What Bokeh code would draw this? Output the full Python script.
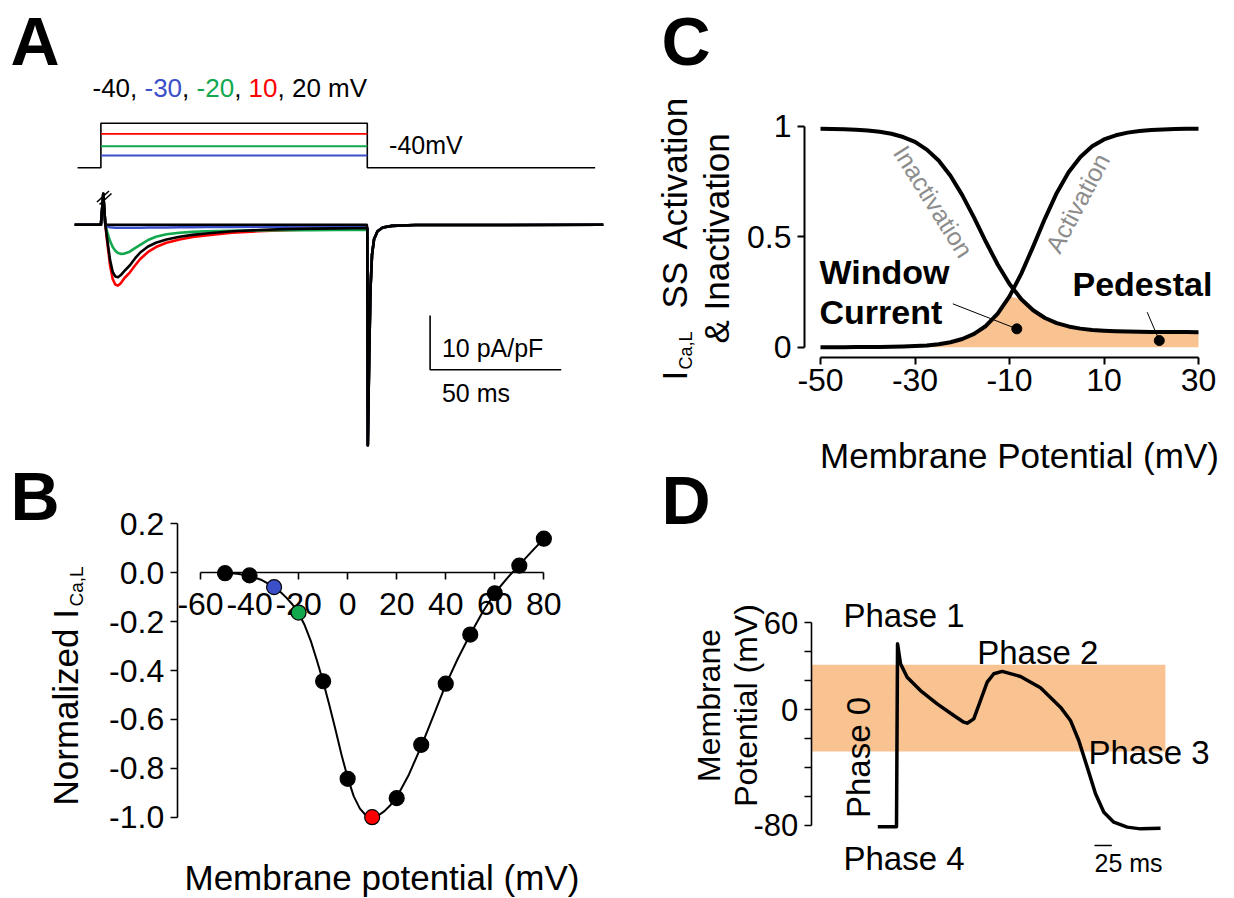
import numpy as np
from bokeh.plotting import figure
from bokeh.models import Label, Range1d, FixedTicker, CustomJSTickFormatter, LinearAxis
from bokeh.embed import file_html
from bokeh.resources import INLINE

FONT = "Liberation Sans"
BLUE = "#3B4FC8"
GREEN = "#12A84E"
RED = "#FF0000"
PEACH = "#F9C291"
GRAY = "#8C8C8C"

# ---------------- Panel A data (time in ms, current in pA/pF) ----------------
pulse_t = [-10, 0, 0.9, 1.7, 2.5, 3.5, 4.5, 5.5, 6.5, 7.5, 9, 11, 13, 15, 18, 21, 25, 30,
           35, 40, 50, 60, 70, 80, 90, 101.4]
cur_red = [0, 0, 5.7, 0, -3.5, -7.5, -10.0, -11.0, -11.2, -10.8, -9.8, -8.8, -7.5, -6.3,
           -5.0, -4.1, -3.3, -2.7, -2.25, -1.95, -1.45, -1.18, -1.0, -0.87, -0.8, -0.74]
cur_black20 = [0, 0, 5.7, 0, -3.0, -6.5, -8.7, -9.5, -9.65, -9.3, -8.5, -7.5, -6.2, -5.1,
               -4.0, -3.3, -2.7, -2.2, -1.85, -1.6, -1.2, -0.95, -0.8, -0.7, -0.65, -0.6]
cur_green = [0, 0, 5.7, 0, -1.5, -3.0, -4.1, -4.8, -5.2, -5.35, -5.3, -4.95, -4.3, -3.7,
             -2.8, -2.2, -1.75, -1.45, -1.3, -1.2, -1.1, -1.05, -1.0, -0.98, -0.95, -0.95]
cur_blue = [0, 0, 5.7, 0, -0.3, -0.45, -0.5, -0.55, -0.55, -0.55, -0.55, -0.55, -0.55, -0.55,
            -0.5, -0.5, -0.5, -0.45, -0.45, -0.4, -0.4, -0.35, -0.35, -0.3, -0.3, -0.3]
cur_black40 = [0, 0, 5.7, 0, 0, 0, 0, 0, 0, 0, 0, 0, 0, 0,
               0, 0, 0, 0, 0, 0, 0, 0, 0, 0, 0, 0]
tail_t = [101.6, 101.8, 102.3, 102.8, 103.4, 104.2, 105.5, 107.5, 111, 120, 191.6]
tail_i = [-0.7, -40.6, -25, -12, -5.5, -2.6, -1.2, -0.5, -0.2, -0.05, 0]
hold_t = [-8.9, 188.5]
pulse_on, pulse_off = 0.0, 101.6
# schematic step heights of the voltage protocol drawing (20, 10, -20, -30 mV)
proto_levels = [4.05, 3.09, 1.96, 1.12]
proto_colors = ["black", RED, GREEN, BLUE]
step_text = [("-40, ", "black"), ("-30", BLUE), (", ", "black"), ("-20", GREEN),
             (", ", "black"), ("10", RED), (", 20 mV", "black")]
bar_ms, bar_pa = 50, 10

# ---------------- Panel B data ----------------
iv_v = [-50, -40, -30, -20, -10, 0, 10, 20, 30, 40, 50, 60, 70, 80]
iv_i = [-0.002, -0.011, -0.059, -0.163, -0.444, -0.843, -1.0, -0.922, -0.704, -0.454,
        -0.253, -0.084, 0.029, 0.139]
iv_colors = {-30: BLUE, -20: GREEN, 10: RED}
fit_v = [-50, -45, -40, -35, -30, -27.5, -25, -22.5, -20, -17.5, -15, -12.5, -10, -7.5, -5,
         -2.5, 0, 2.5, 5, 7.5, 10, 12.5, 15, 17.5, 20, 25, 30, 35, 40, 45, 50, 55, 60, 65,
         70, 75, 80]
fit_i = [0.0, -0.004, -0.013, -0.03, -0.058, -0.078, -0.102, -0.13, -0.165, -0.215, -0.28,
         -0.36, -0.445, -0.54, -0.64, -0.745, -0.838, -0.915, -0.965, -0.993, -1.0, -0.993,
         -0.975, -0.95, -0.918, -0.825, -0.71, -0.585, -0.458, -0.35, -0.252, -0.162,
         -0.083, -0.023, 0.032, 0.086, 0.139]
b_xticks = [-60, -40, -20, 0, 20, 40, 60, 80]
b_yticks = [0.2, 0.0, -0.2, -0.4, -0.6, -0.8, -1.0]

# ---------------- Panel C data ----------------
c_v = [-50, -47.5, -45, -42.5, -40, -37.5, -35, -32.5, -30, -27.5, -25, -22.5, -20, -17.5,
       -15, -12.5, -10, -7.5, -5, -2.5, 0, 2.5, 5, 7.5, 10, 12.5, 15, 17.5, 20, 22.5, 25,
       27.5, 30]
act = [0.0001, 0.0001, 0.0002, 0.0004, 0.0006, 0.0010, 0.0017, 0.0029, 0.0049, 0.0080,
       0.0134, 0.0223, 0.037, 0.060, 0.096, 0.152, 0.230, 0.333, 0.455, 0.582, 0.698, 0.792,
       0.861, 0.909, 0.940, 0.959, 0.971, 0.978, 0.983, 0.985, 0.987, 0.988, 0.988]
inact = [0.988, 0.987, 0.986, 0.984, 0.981, 0.975, 0.966, 0.951, 0.929, 0.894, 0.845, 0.776,
         0.688, 0.586, 0.477, 0.374, 0.286, 0.217, 0.167, 0.132, 0.109, 0.094, 0.084, 0.078,
         0.0745, 0.072, 0.0705, 0.0696, 0.069, 0.0686, 0.0684, 0.0683, 0.0682]
window_dot = (-8.45, 0.083)
pedestal_dot = (21.7, 0.030)
c_xticks = [-50, -30, -10, 10, 30]
c_yticks = [0, 0.5, 1]

# ---------------- Panel D data ----------------
ap_t = [-27, 0, 1.5, 5.8, 15.4, 34.6, 58.7, 82.7, 97.1, 102, 111.5, 121.2, 130.9, 140.4,
        152.5, 178.9, 207.8, 236.6, 251, 263, 275.2, 287.2, 299.2, 313.6, 332.9, 352.1, 381]
ap_v = [-81, -81, 45.5, 31.7, 22.4, 13.2, 4.0, -4.1, -8.7, -9.4, -6.4, 6.3, 19.0, 24.8, 26.4,
        22.9, 15.1, 1.7, -7.5, -21.4, -39.8, -58.2, -71.0, -77.9, -81.3, -82.5, -82.0]
band_lo, band_hi, band_t_end = -29, 31, 388
d_yticks = [60, 40, 20, 0, -20, -40, -60, -80]
d_bar_ms, d_bar_t0, d_bar_v = 25, 285.7, -94

# ---------------- canvas: one figure, page pixel coordinates (y downward) ----------------
W, H = 1234, 898
p = figure(width=W, height=H, x_range=Range1d(0, W), y_range=Range1d(H, 0),
           output_backend="svg", toolbar_location=None, title=None,
           x_axis_location=None, y_axis_location=None, min_border=0)
p.outline_line_color = None
p.grid.visible = False
p.background_fill_color = "white"
p.border_fill_color = "white"


# pixel -> panel data mappings
def tA(x): return (x - 100.4) / 2.622
def iA(y): return (224.3 - y) / 5.43
def uA(y): return (167.3 - y) / 11.0
def vB(x): return -60 + (x - 200) / 2.4525
def iB(y): return (572.2 - y) / 244.5
def vC(x): return -50 + (x - 820) / 4.725
def gC(y): return (346.7 - y) / 221.0
def tD(x): return (x - 896) / 0.693
def vD(y): return (709.1 - y) / 1.4457


p.extra_x_ranges = {"xA": Range1d(tA(0), tA(W)), "xB": Range1d(vB(0), vB(W)),
                    "xC": Range1d(vC(0), vC(W)), "xD": Range1d(tD(0), tD(W))}
p.extra_y_ranges = {"yA": Range1d(iA(H), iA(0)), "pA": Range1d(uA(H), uA(0)),
                    "yB": Range1d(iB(H), iB(0)), "yC": Range1d(gC(H), gC(0)),
                    "yD": Range1d(vD(H), vD(0))}


def add_axis(xr, yr, side, loc, ticks, bounds, code, size="32px", standoff=6, width=1.6):
    ax = LinearAxis(x_range_name=xr, y_range_name=yr, fixed_location=loc,
                    ticker=FixedTicker(ticks=ticks), bounds=bounds,
                    formatter=CustomJSTickFormatter(code=code))
    ax.axis_line_width = width
    ax.axis_line_color = "black"
    ax.major_tick_line_width = width
    ax.major_tick_out = 7
    ax.major_tick_in = 0
    ax.minor_tick_out = 0
    ax.minor_tick_in = 0
    ax.major_label_text_font = FONT
    ax.major_label_text_font_size = size
    ax.major_label_text_color = "black"
    ax.major_label_standoff = standoff
    ax.axis_label = None
    p.add_layout(ax, side)
    return ax


MID = 0.35  # em distance from the text's middle anchor down to its baseline


def lab(x, y, text, size, color="black", style="normal", align="left", vertical=False):
    """x, y: baseline position in page pixels (for vertical text x is the baseline)."""
    if vertical:
        ax_, ay_, ang = x - MID * size, y, np.pi / 2
    else:
        ax_, ay_, ang = x, y - MID * size, 0.0
    p.add_layout(Label(x=ax_, y=ay_, text=text, text_font=FONT, text_font_size=f"{size}px",
                       text_font_style=style, text_color=color, text_align=align,
                       text_baseline="middle", angle=ang))


def lab_c(x, y, text, size, color, angle):
    p.add_layout(Label(x=x, y=y, text=text, text_font=FONT, text_font_size=f"{size}px",
                       text_color=color, text_align="center", text_baseline="middle",
                       angle=angle))


# ================= Panel A =================
A = dict(x_range_name="xA", y_range_name="yA")
P = dict(x_range_name="xA", y_range_name="pA")
p.line([hold_t[0], pulse_on, pulse_on, pulse_off, pulse_off, hold_t[1]],
       [0, 0, proto_levels[0], proto_levels[0], 0, 0], line_color="black", line_width=1.6, **P)
for lvl, col in zip(proto_levels[1:], proto_colors[1:]):
    p.line([pulse_on, pulse_off], [lvl, lvl], line_color=col, line_width=1.8, **P)

for cur, col in [(cur_red, RED), (cur_green, GREEN), (cur_blue, BLUE),
                 (cur_black20, "black"), (cur_black40, "black")]:
    p.line(pulse_t + tail_t, cur + tail_i, line_color=col, line_width=2.6,
           line_join="round", **A)

# break marks on the capacitive artefact (page pixels)
p.segment(x0=[96.5, 99.0], y0=[201.5, 204.0], x1=[108.5, 111.0], y1=[190.5, 193.0],
          line_color="black", line_width=1.6)

bx0, by0 = tA(429.6), iA(369.3)
p.line([bx0, bx0, bx0 + bar_ms], [by0 + bar_pa, by0, by0], line_color="black",
       line_width=1.6, **A)
lab(441.4, 356.7, f"{bar_pa} pA/pF", 25)
lab(441.4, 401.7, f"{bar_ms} ms", 25)
lab(388.6, 153.3, "-40mV", 25)
xs = [92.0, 144.0, 181.6, 196.1, 233.7, 248.1, 277.0]
for (txt, col), xx in zip(step_text, xs):
    lab(xx, 97.0, txt, 26, color=col)
lab(10, 64, "A", 68, style="bold")

# ================= Panel B =================
B = dict(x_range_name="xB", y_range_name="yB")
add_axis("xB", "yB", "below", 0, b_xticks, (-60, 80), "return tick.toString();", standoff=13)
add_axis("xB", "yB", "left", vB(176.7), b_yticks, (-1.0, 0.2), "return tick.toFixed(1);")
p.line(fit_v, fit_i, line_color="black", line_width=2, **B)
cols = [iv_colors.get(v, "black") for v in iv_v]
p.scatter(iv_v, iv_i, size=15, fill_color=cols, line_color="black", line_width=1.2,
          level="overlay", **B)
lab(77, 805, "Normalized I", 35, vertical=True)
lab(83, 606, "Ca,L", 19, vertical=True)
lab(184, 889, "Membrane potential (mV)", 35)
lab(10, 519, "B", 68, style="bold")

# ================= Panel C =================
C = dict(x_range_name="xC", y_range_name="yC")
add_axis("xC", "yC", "below", gC(356.7), c_xticks, (-50, 30), "return tick.toString();",
         standoff=5, width=2)
add_axis("xC", "yC", "left", vC(804), c_yticks, (0, 1), "return tick.toString();", width=2)
window = np.minimum(np.array(act), np.array(inact))
p.varea(x=c_v, y1=0, y2=window, fill_color=PEACH, **C)
p.line(c_v, inact, line_color="black", line_width=4, line_join="round", **C)
p.line(c_v, act, line_color="black", line_width=4, line_join="round", **C)


def pxC(v): return 820 + (v + 50) * 4.725
def pyC(g): return 346.7 - 221.0 * g


p.segment(x0=[952.3, 1146.7], y0=[303.3, 311.7],
          x1=[pxC(window_dot[0]), pxC(pedestal_dot[0])],
          y1=[pyC(window_dot[1]), pyC(pedestal_dot[1])], line_color="black", line_width=1)
p.scatter([window_dot[0], pedestal_dot[0]], [window_dot[1], pedestal_dot[1]], size=10,
          color="black", **C)
lab(819, 283.3, "Window", 34, style="bold")
lab(819, 323.3, "Current", 34, style="bold")
lab(1072, 295, "Pedestal", 34, style="bold")
lab_c(933, 201, "Inactivation", 25, GRAY, -58 * np.pi / 180)
lab_c(1077, 202.5, "Activation", 25, GRAY, 62 * np.pi / 180)
lab(686, 380, "I", 35, vertical=True)
lab(692, 369, "Ca,L", 18, vertical=True)
lab(686, 308, "SS", 35, vertical=True)
lab(686, 249, "Activation", 35, vertical=True)
lab(728, 343, "& Inactivation", 35, vertical=True)
lab(1019, 467, "Membrane Potential (mV)", 35, align="center")
lab(661, 64, "C", 68, style="bold")

# ================= Panel D =================
D = dict(x_range_name="xD", y_range_name="yD")
add_axis("xD", "yD", "left", tD(810.7), d_yticks, (-80, 60),
         "return (tick == 60 || tick == 0 || tick == -80) ? tick.toString() : '';",
         size="31px")
p.quad(left=tD(810.7), right=band_t_end, bottom=band_lo, top=band_hi, fill_color=PEACH,
       line_color=None, level="underlay", **D)
p.line(ap_t, ap_v, line_color="black", line_width=3.5, line_join="round", **D)
p.line([d_bar_t0, d_bar_t0 + d_bar_ms], [d_bar_v, d_bar_v], line_color="black",
       line_width=1.5, **D)
lab(843, 626.7, "Phase 1", 33)
lab(976.7, 663.3, "Phase 2", 33)
lab(1088, 763.3, "Phase 3", 33)
lab(843, 870, "Phase 4", 33)
lab(870, 757, "Phase 0", 33, align="center", vertical=True)
lab(1094, 871.7, f"{d_bar_ms} ms", 25)
lab(720, 705, "Membrane", 32, align="center", vertical=True)
lab(757, 705, "Potential (mV)", 32, align="center", vertical=True)
lab(661, 523, "D", 68, style="bold")

open("out.html", "w").write(file_html(p, INLINE))
